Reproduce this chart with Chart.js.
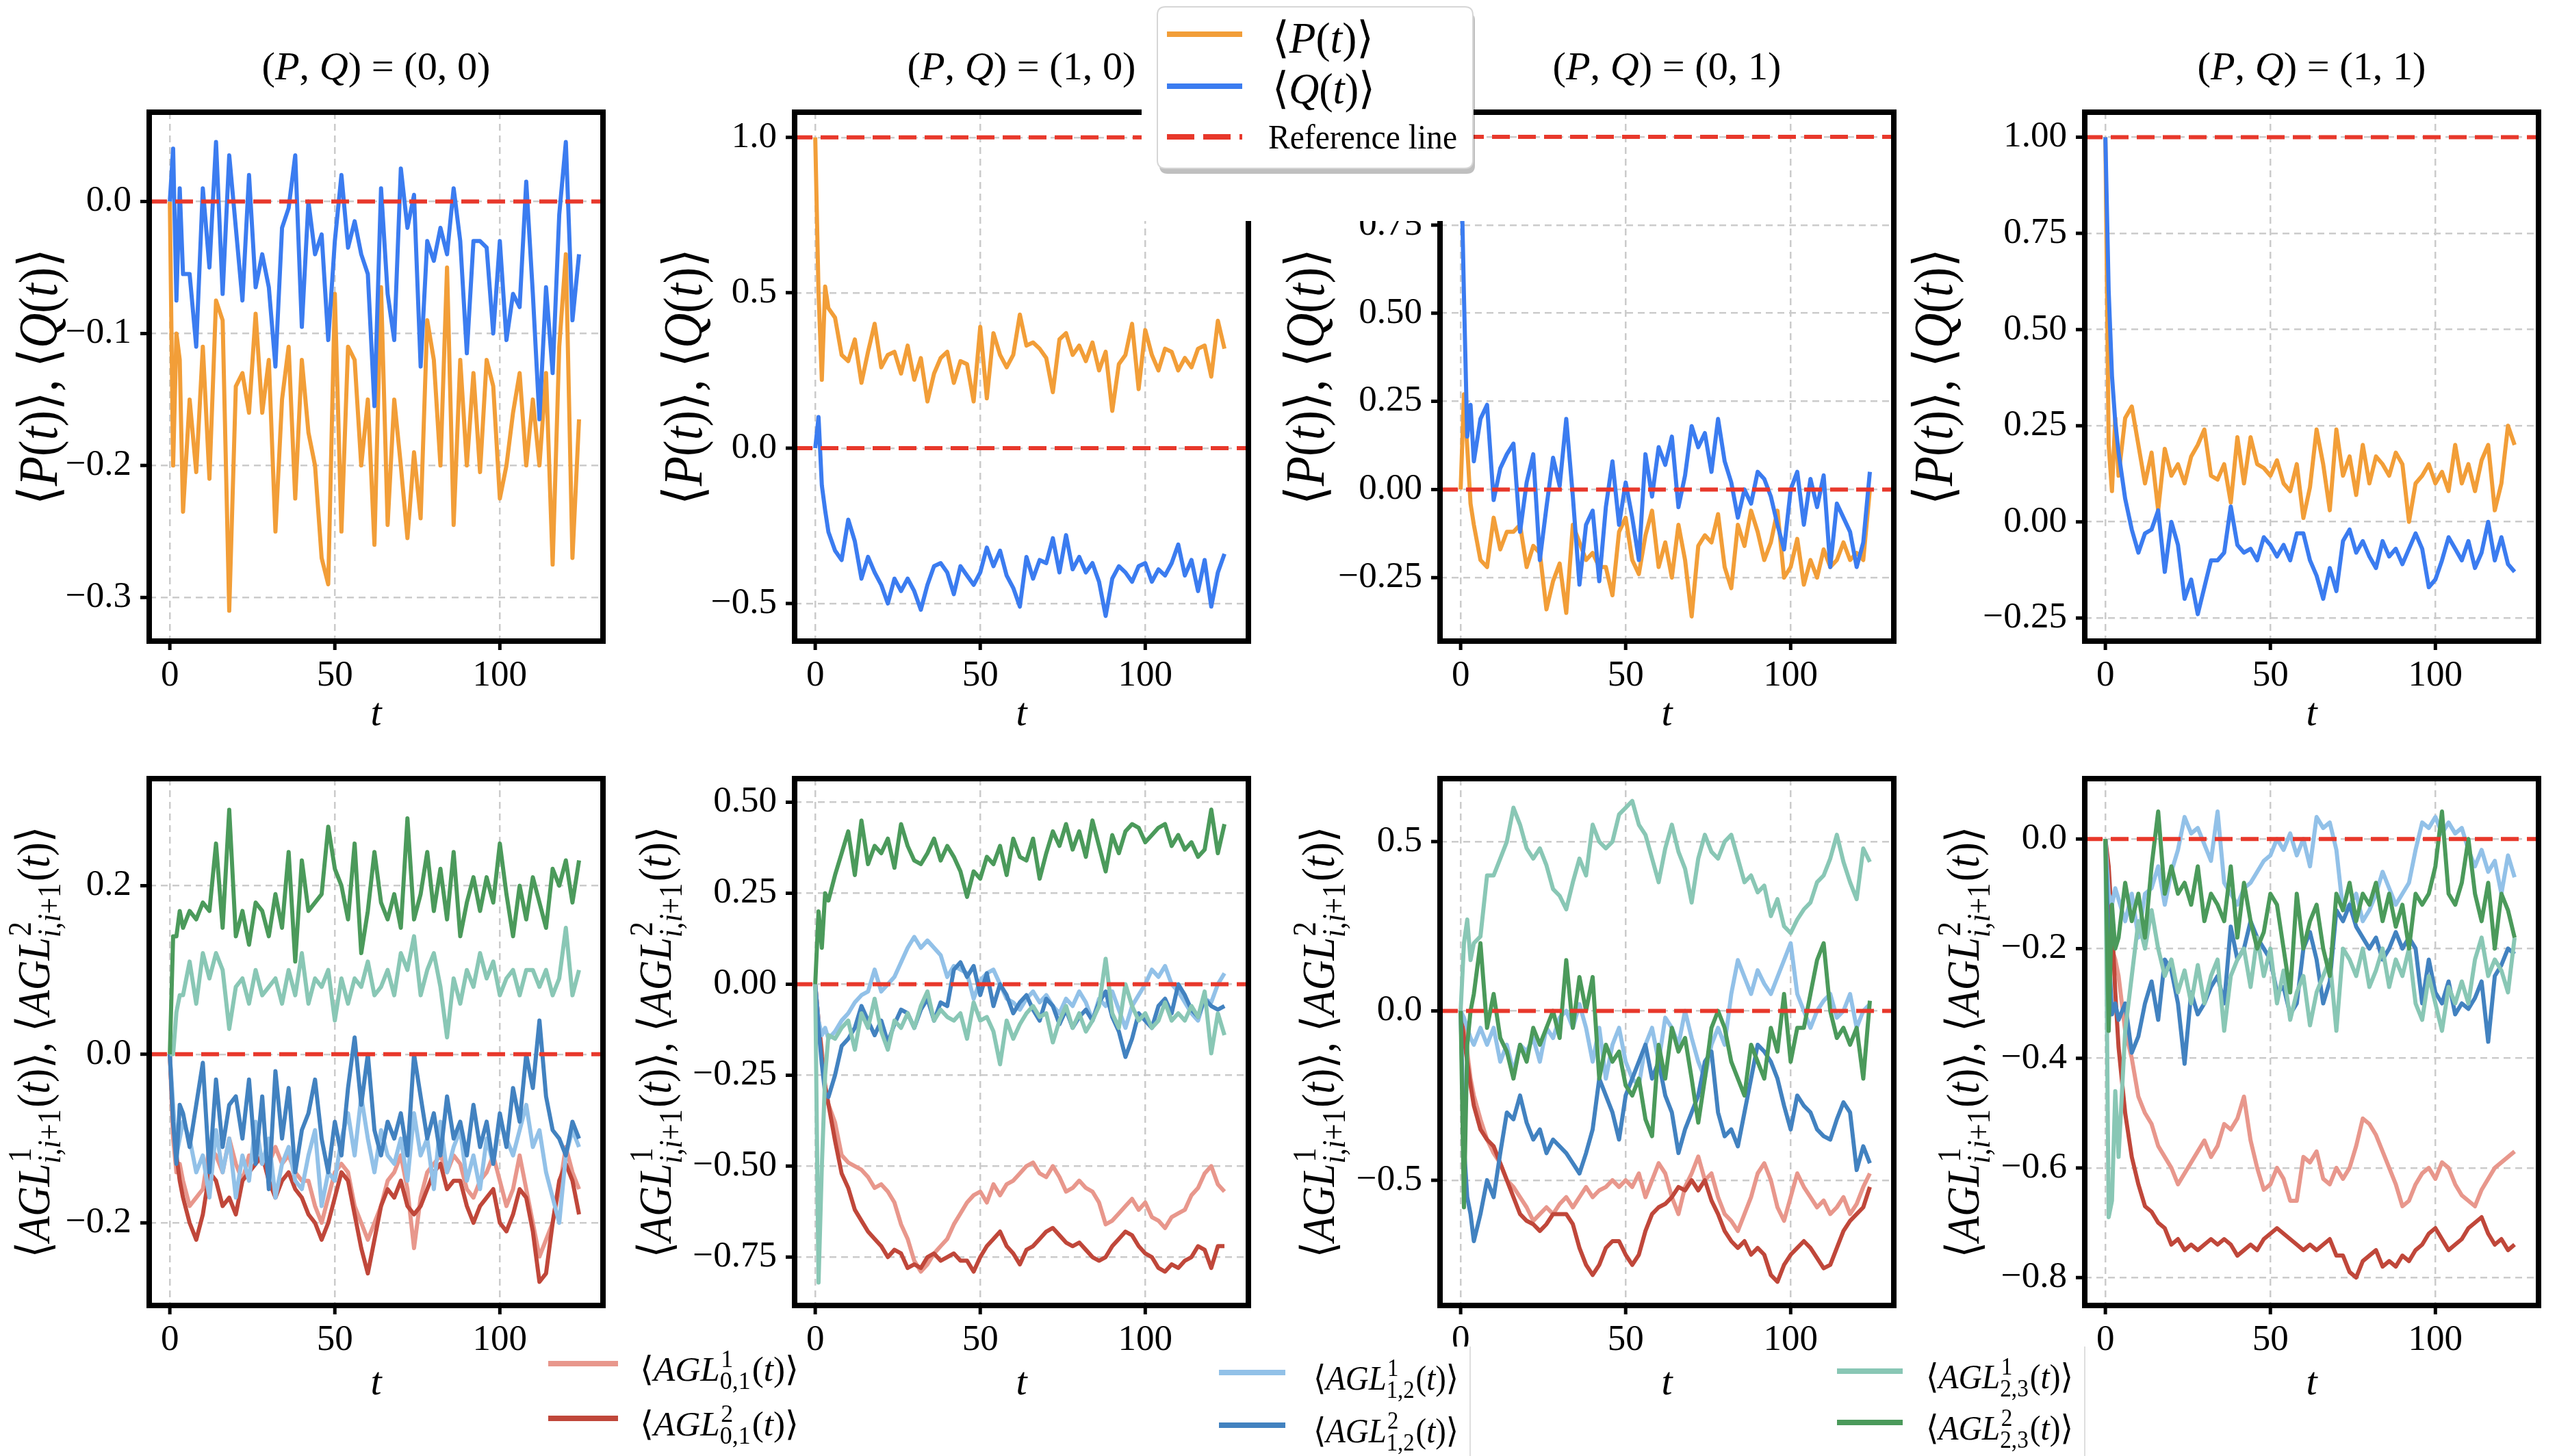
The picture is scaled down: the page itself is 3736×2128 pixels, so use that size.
<!DOCTYPE html>
<html>
<head>
<meta charset="utf-8">
<title>P, Q and AGL averages</title>
<script src="https://cdn.jsdelivr.net/npm/chart.js@4.4.0/dist/chart.umd.min.js"></script>
<style>
  html, body { margin: 0; padding: 0; background: #fff; }
  body { position: relative; width: 3736px; height: 2128px; overflow: hidden; }
  canvas { position: absolute; }
</style>
</head>
<body>
<canvas id="overlay" width="3736" height="2128" style="left:0;top:0;z-index:5;pointer-events:none"></canvas>
<script>
const SERIF = "'Liberation Serif', 'DejaVu Serif', serif";

// time axis (t = 0..124)
const T = [0, 1, 2, 3, 4, 6, 8, 10, 12, 14, 16, 18, 20, 22, 24, 26, 28, 30, 32, 34, 36, 38, 40, 42,
  44, 46, 48, 50, 52, 54, 56, 58, 60, 62, 64, 66, 68, 70, 72, 74, 76, 78, 80, 82, 84, 86, 88, 90,
  92, 94, 96, 98, 100, 102, 104, 106, 108, 110, 112, 114, 116, 118, 120, 122, 124];

// top row: <P(t)> and <Q(t)> for (P,Q) = (0,0), (1,0), (0,1), (1,1)
const P00 = [0, -0.2, -0.1, -0.12,
  -0.235, -0.15, -0.205, -0.11, -0.21, -0.075, -0.09, -0.31, -0.14, -0.13,
  -0.16, -0.085, -0.16, -0.12, -0.25, -0.15, -0.11, -0.225, -0.12, -0.175,
  -0.2, -0.27, -0.29, -0.07, -0.25, -0.11, -0.12, -0.2, -0.15, -0.26,
  -0.065, -0.245, -0.15, -0.2, -0.255, -0.19, -0.24, -0.09, -0.12, -0.2,
  -0.05, -0.245, -0.12, -0.2, -0.13, -0.205, -0.12, -0.14, -0.225, -0.2,
  -0.16, -0.13, -0.2, -0.15, -0.2, -0.13, -0.275, -0.11, -0.04, -0.27,
  -0.165];
const Q00 = [0, 0.04, -0.075, 0.01,
  -0.055, -0.055, -0.11, 0.01, -0.05, 0.045, -0.07, 0.035, -0.02, -0.075,
  0.02, -0.065, -0.04, -0.065, -0.125, -0.02, -0.005, 0.035, -0.095, 0.0,
  -0.04, -0.025, -0.105, -0.03, 0.02, -0.035, -0.015, -0.04, -0.055, -0.155,
  0.01, -0.07, -0.105, 0.025, -0.02, 0.005, -0.125, -0.03, -0.045, -0.02,
  -0.04, 0.01, -0.03, -0.115, -0.03, -0.03, -0.035, -0.1, -0.03, -0.105,
  -0.07, -0.08, 0.015, -0.07, -0.165, -0.065, -0.13, -0.01, 0.045, -0.09,
  -0.04];
const P10 = [1.0, 0.5, 0.22, 0.52,
  0.45, 0.42, 0.3, 0.28, 0.35, 0.21, 0.31, 0.4, 0.26, 0.3,
  0.31, 0.24, 0.33, 0.22, 0.29, 0.15, 0.24, 0.29, 0.31, 0.21,
  0.28, 0.27, 0.15, 0.39, 0.16, 0.37, 0.3, 0.26, 0.3, 0.43,
  0.33, 0.34, 0.32, 0.29, 0.18, 0.35, 0.37, 0.3, 0.33, 0.28,
  0.34, 0.25, 0.31, 0.12, 0.27, 0.3, 0.4, 0.19, 0.38, 0.3,
  0.25, 0.32, 0.31, 0.25, 0.29, 0.26, 0.32, 0.33, 0.23, 0.41,
  0.32];
const Q10 = [0, 0.1, -0.12, -0.2,
  -0.27, -0.33, -0.36, -0.23, -0.3, -0.42, -0.35, -0.4, -0.44, -0.5,
  -0.42, -0.46, -0.42, -0.46, -0.52, -0.44, -0.38, -0.37, -0.4, -0.47,
  -0.38, -0.41, -0.44, -0.4, -0.32, -0.38, -0.33, -0.41, -0.45, -0.51,
  -0.35, -0.42, -0.36, -0.37, -0.29, -0.4, -0.28, -0.39, -0.35, -0.4,
  -0.37, -0.43, -0.54, -0.42, -0.38, -0.4, -0.43, -0.38, -0.37, -0.43,
  -0.39, -0.41, -0.37, -0.31, -0.41, -0.36, -0.46, -0.36, -0.51, -0.4,
  -0.34];
const P01 = [0, 0.27, 0.12, -0.04,
  -0.1, -0.2, -0.22, -0.08, -0.17, -0.12, -0.12, -0.1, -0.22, -0.16,
  -0.18, -0.34, -0.26, -0.21, -0.35, -0.1, -0.15, -0.2, -0.18, -0.22,
  -0.22, -0.3, -0.12, -0.08, -0.2, -0.24, -0.13, -0.06, -0.22, -0.15,
  -0.25, -0.1, -0.2, -0.36, -0.16, -0.13, -0.15, -0.07, -0.22, -0.28,
  -0.1, -0.16, -0.06, -0.12, -0.2, -0.15, -0.06, -0.25, -0.22, -0.14,
  -0.27, -0.2, -0.25, -0.17, -0.22, -0.2, -0.15, -0.2, -0.18, -0.2,
  0.0];
const Q01 = [1.0, 0.55, 0.15, 0.24,
  0.08, 0.2, 0.24, -0.03, 0.06, 0.1, 0.13, -0.12, 0.02, 0.1,
  -0.2, -0.05, 0.09, 0.01, 0.2, -0.02, -0.27, -0.1, -0.06, -0.26,
  -0.05, 0.08, -0.1, 0.02, -0.08, -0.2, 0.1, -0.02, 0.12, 0.07,
  0.15, -0.05, 0.04, 0.18, 0.12, 0.16, 0.05, 0.2, 0.08, 0.02,
  -0.08, 0.0, -0.04, 0.05, 0.03, -0.02, -0.1, -0.17, 0.0, 0.05,
  -0.1, 0.03, -0.05, 0.04, -0.22, -0.04, -0.08, -0.12, -0.22, -0.15,
  0.05];
const P11 = [1.0, 0.2, 0.08, 0.27,
  0.12, 0.27, 0.3, 0.2, 0.1, 0.18, 0.03, 0.19, 0.12, 0.15,
  0.1, 0.17, 0.2, 0.24, 0.12, 0.11, 0.15, 0.05, 0.22, 0.1,
  0.22, 0.15, 0.14, 0.12, 0.16, 0.1, 0.08, 0.15, 0.01, 0.09,
  0.24, 0.15, 0.03, 0.24, 0.12, 0.17, 0.07, 0.2, 0.1, 0.17,
  0.15, 0.12, 0.18, 0.15, 0.0, 0.1, 0.12, 0.15, 0.1, 0.13,
  0.08, 0.2, 0.1, 0.15, 0.08, 0.16, 0.2, 0.03, 0.1, 0.25,
  0.2];
const Q11 = [1.0, 0.6, 0.38, 0.26,
  0.18, 0.06, -0.02, -0.08, -0.03, -0.02, 0.03, -0.13, 0.0, -0.06,
  -0.2, -0.15, -0.24, -0.17, -0.1, -0.1, -0.08, 0.04, -0.06, -0.08,
  -0.07, -0.1, -0.04, -0.06, -0.09, -0.06, -0.1, -0.03, -0.03, -0.1,
  -0.14, -0.2, -0.12, -0.18, -0.05, -0.02, -0.08, -0.05, -0.09, -0.12,
  -0.05, -0.09, -0.07, -0.11, -0.07, -0.03, -0.07, -0.17, -0.15, -0.1,
  -0.04, -0.07, -0.1, -0.05, -0.12, -0.08, 0.0, -0.1, -0.04, -0.11,
  -0.13];

// bottom row: AGL^1/AGL^2 for links (0,1), (1,2), (2,3)
const B1_01a = [0, -0.1, -0.14, -0.13,
  -0.15, -0.18, -0.17, -0.16, -0.11, -0.12, -0.14, -0.1, -0.13, -0.15,
  -0.12, -0.12, -0.13, -0.13, -0.11, -0.13, -0.12, -0.14, -0.15, -0.15,
  -0.18, -0.2, -0.17, -0.14, -0.13, -0.14, -0.18, -0.2, -0.22, -0.2,
  -0.18, -0.15, -0.14, -0.12, -0.16, -0.23, -0.17, -0.14, -0.13, -0.12,
  -0.14, -0.12, -0.13, -0.16, -0.17, -0.15, -0.14, -0.12, -0.15, -0.18,
  -0.16, -0.12, -0.16, -0.2, -0.24, -0.22, -0.2, -0.16, -0.11, -0.14,
  -0.16];
const B1_01b = [0, -0.08, -0.12, -0.15,
  -0.17, -0.2, -0.22, -0.19, -0.14, -0.15, -0.18, -0.17, -0.19, -0.15,
  -0.14, -0.13, -0.12, -0.15, -0.17, -0.15, -0.14, -0.16, -0.17, -0.19,
  -0.2, -0.22, -0.2, -0.17, -0.14, -0.15, -0.19, -0.23, -0.26, -0.22,
  -0.18, -0.16, -0.17, -0.15, -0.18, -0.19, -0.18, -0.16, -0.14, -0.13,
  -0.16, -0.15, -0.15, -0.18, -0.2, -0.18, -0.17, -0.16, -0.2, -0.21,
  -0.19, -0.16, -0.17, -0.21, -0.27, -0.26, -0.2, -0.15, -0.13, -0.15,
  -0.19];
const B1_12a = [0, -0.06, -0.12, -0.1,
  -0.08, -0.1, -0.14, -0.12, -0.17, -0.09, -0.14, -0.1, -0.17, -0.12,
  -0.15, -0.08, -0.13, -0.1, -0.17, -0.13, -0.11, -0.15, -0.16, -0.12,
  -0.09, -0.18, -0.14, -0.15, -0.1, -0.07, -0.12, -0.05, -0.1, -0.14,
  -0.09, -0.12, -0.13, -0.1, -0.15, -0.07, -0.12, -0.1, -0.16, -0.08,
  -0.14, -0.11, -0.09, -0.15, -0.12, -0.16, -0.1, -0.13, -0.08, -0.1,
  -0.12, -0.09, -0.06, -0.11, -0.09, -0.14, -0.17, -0.2, -0.12, -0.09,
  -0.11];
const B1_12b = [0, -0.08, -0.13, -0.06,
  -0.07, -0.11, -0.06, -0.01, -0.14, -0.03, -0.11, -0.06, -0.05, -0.1,
  -0.03, -0.13, -0.05, -0.16, -0.02, -0.1, -0.04, -0.14, -0.09, -0.07,
  -0.03, -0.1, -0.14, -0.08, -0.12, -0.04, 0.02, -0.06, 0.0, -0.09,
  -0.12, -0.08, -0.1, -0.07, -0.12, 0.0, -0.05, -0.1, -0.07, -0.12,
  -0.05, -0.1, -0.08, -0.12, -0.06, -0.11, -0.08, -0.13, -0.07, -0.11,
  -0.04, -0.08, 0.0, -0.04, 0.04, -0.05, -0.09, -0.1, -0.12, -0.08,
  -0.1];
const B1_23a = [0, 0.0, 0.05, 0.07,
  0.07, 0.11, 0.06, 0.12, 0.09, 0.12, 0.1, 0.03, 0.08, 0.09,
  0.06, 0.1, 0.07, 0.08, 0.09, 0.06, 0.1, 0.07, 0.12, 0.06,
  0.09, 0.08, 0.1, 0.04, 0.09, 0.06, 0.09, 0.08, 0.11, 0.07,
  0.08, 0.1, 0.07, 0.12, 0.1, 0.14, 0.07, 0.1, 0.12, 0.08,
  0.02, 0.09, 0.06, 0.1, 0.08, 0.12, 0.09, 0.11, 0.07, 0.09,
  0.1, 0.07, 0.1, 0.1, 0.08, 0.1, 0.07, 0.09, 0.15, 0.07,
  0.1];
const B1_23b = [0, 0.14, 0.14, 0.17,
  0.15, 0.17, 0.16, 0.18, 0.17, 0.25, 0.15, 0.29, 0.14, 0.17,
  0.13, 0.18, 0.17, 0.14, 0.19, 0.15, 0.24, 0.11, 0.23, 0.17,
  0.18, 0.19, 0.27, 0.22, 0.2, 0.16, 0.25, 0.12, 0.17, 0.24,
  0.18, 0.16, 0.19, 0.15, 0.28, 0.16, 0.19, 0.24, 0.17, 0.22,
  0.16, 0.24, 0.14, 0.18, 0.21, 0.17, 0.21, 0.18, 0.25, 0.19,
  0.14, 0.2, 0.16, 0.21, 0.18, 0.15, 0.22, 0.2, 0.23, 0.18,
  0.23];

const B2_01a = [0, -0.1, -0.18, -0.28,
  -0.33, -0.38, -0.47, -0.49, -0.5, -0.51, -0.53, -0.56, -0.55, -0.57,
  -0.6, -0.66, -0.7, -0.76, -0.79, -0.77, -0.74, -0.72, -0.7, -0.66,
  -0.63, -0.6, -0.58, -0.57, -0.6, -0.55, -0.58, -0.55, -0.54, -0.52,
  -0.5, -0.49, -0.52, -0.53, -0.5, -0.53, -0.57, -0.56, -0.54, -0.56,
  -0.57, -0.6, -0.66, -0.65, -0.63, -0.61, -0.59, -0.62, -0.6, -0.64,
  -0.65, -0.67, -0.64, -0.63, -0.62, -0.58, -0.56, -0.52, -0.5, -0.55,
  -0.57];
const B2_01b = [0, -0.1, -0.2, -0.28,
  -0.33, -0.43, -0.52, -0.56, -0.62, -0.65, -0.68, -0.7, -0.72, -0.75,
  -0.73, -0.74, -0.78, -0.77, -0.78, -0.75, -0.74, -0.76, -0.75, -0.74,
  -0.76, -0.76, -0.79, -0.75, -0.72, -0.7, -0.68, -0.72, -0.74, -0.77,
  -0.73, -0.72, -0.7, -0.68, -0.67, -0.69, -0.71, -0.72, -0.71, -0.73,
  -0.75, -0.76, -0.75, -0.72, -0.7, -0.68, -0.69, -0.72, -0.74, -0.75,
  -0.78, -0.79, -0.77, -0.78, -0.76, -0.75, -0.72, -0.73, -0.78, -0.72,
  -0.72];
const B2_12a = [0, -0.1, -0.14, -0.12,
  -0.15, -0.13, -0.1, -0.08, -0.05, -0.03, -0.02, 0.04, -0.02, 0.0,
  0.02, 0.06, 0.1, 0.13, 0.1, 0.12, 0.1, 0.08, 0.02, 0.05,
  0.04, 0.03, -0.04, 0.01, 0.03, 0.04, 0.0, -0.04, -0.05, -0.07,
  -0.04, -0.02, -0.05, -0.03, -0.06, -0.08, -0.04, -0.06, -0.02, -0.05,
  -0.1, -0.04, -0.06, -0.02, -0.07, -0.12, -0.06, -0.03, 0.0, 0.04,
  0.02, 0.05, 0.0, -0.02, -0.05, -0.08, -0.1, -0.04, -0.05, 0.0,
  0.03];
const B2_12b = [0, -0.12, -0.22, -0.3,
  -0.31, -0.25, -0.17, -0.15, -0.12, -0.06, -0.1, -0.14, -0.1, -0.16,
  -0.11, -0.07, -0.08, -0.12, -0.07, -0.04, -0.1, -0.05, -0.06, 0.04,
  0.06, 0.02, 0.05, -0.03, 0.03, -0.06, 0.0, -0.03, -0.08, -0.05,
  -0.03, -0.07, -0.1, -0.04, -0.06, -0.11, -0.07, -0.12, -0.09, -0.07,
  -0.1, -0.05, -0.02, -0.09, -0.13, -0.2, -0.15, -0.08, -0.1, -0.12,
  -0.06, -0.04, -0.08, 0.0, -0.03, -0.07, -0.09, -0.04, -0.06, -0.07,
  -0.06];
const B2_23a = [0, -0.82, -0.5, -0.25,
  -0.14, -0.15, -0.12, -0.1, -0.18, -0.08, -0.12, -0.04, -0.13, -0.18,
  -0.1, -0.12, -0.08, -0.12, -0.06, -0.02, -0.1, -0.07, -0.09, -0.1,
  -0.08, -0.15, -0.05, -0.1, -0.09, -0.13, -0.22, -0.1, -0.15, -0.11,
  -0.08, -0.06, -0.09, -0.08, -0.16, -0.1, -0.06, -0.12, -0.08, -0.13,
  -0.1, -0.06, 0.07, -0.08, -0.12, 0.0, -0.06, -0.1, -0.08, -0.12,
  -0.1, -0.05, -0.1, -0.08, -0.1, -0.06, -0.09, -0.02, -0.19, -0.08,
  -0.14];
const B2_23b = [0, 0.2, 0.1, 0.25,
  0.23, 0.3, 0.36, 0.42, 0.3, 0.45, 0.33, 0.38, 0.36, 0.4,
  0.32, 0.44, 0.38, 0.34, 0.33, 0.36, 0.4, 0.34, 0.38, 0.35,
  0.31, 0.24, 0.31, 0.29, 0.35, 0.33, 0.38, 0.3, 0.4, 0.35,
  0.34, 0.4, 0.29, 0.36, 0.42, 0.38, 0.44, 0.37, 0.42, 0.35,
  0.45, 0.38, 0.31, 0.41, 0.36, 0.42, 0.44, 0.43, 0.39, 0.41,
  0.43, 0.44, 0.38, 0.41, 0.37, 0.39, 0.35, 0.37, 0.48, 0.36,
  0.44];

const B3_01a = [0, -0.05, -0.12, -0.2,
  -0.25, -0.32, -0.38, -0.42, -0.45, -0.5, -0.52, -0.55, -0.58, -0.62,
  -0.6, -0.58, -0.6, -0.57, -0.55, -0.58, -0.55, -0.52, -0.55, -0.53,
  -0.52, -0.5, -0.52, -0.5, -0.52, -0.48, -0.55, -0.5, -0.45, -0.48,
  -0.55, -0.6, -0.52, -0.48, -0.43, -0.5, -0.48, -0.55, -0.6, -0.62,
  -0.65, -0.6, -0.55, -0.48, -0.45, -0.5, -0.58, -0.62, -0.55, -0.48,
  -0.52, -0.55, -0.58, -0.56, -0.6, -0.58, -0.55, -0.6, -0.57, -0.52,
  -0.48];
const B3_01b = [0, -0.08, -0.15, -0.22,
  -0.28, -0.35, -0.38, -0.4, -0.45, -0.5, -0.55, -0.6, -0.62, -0.63,
  -0.65, -0.63, -0.6, -0.6, -0.6, -0.63, -0.7, -0.75, -0.78, -0.75,
  -0.7, -0.68, -0.68, -0.72, -0.75, -0.72, -0.65, -0.6, -0.58, -0.57,
  -0.55, -0.52, -0.53, -0.5, -0.53, -0.5, -0.56, -0.6, -0.65, -0.68,
  -0.7, -0.68, -0.72, -0.7, -0.72, -0.78, -0.8, -0.75, -0.72, -0.7,
  -0.68, -0.7, -0.73, -0.76, -0.75, -0.7, -0.65, -0.62, -0.6, -0.58,
  -0.52];
const B3_12a = [0, -0.02, -0.05, -0.08,
  -0.1, -0.05, -0.1, -0.05, -0.15, -0.1, -0.18, -0.1, -0.12, -0.08,
  -0.15, -0.05, -0.08, -0.02, 0.0, -0.05, 0.02, -0.05, -0.15, -0.05,
  -0.2, -0.1, -0.05, -0.15, -0.2, -0.22, -0.1, -0.05, -0.15, -0.02,
  -0.05, -0.1, 0.0, -0.08, -0.15, -0.2, -0.1, -0.05, -0.1, 0.05,
  0.15, 0.1, 0.05, 0.12, 0.08, 0.05, 0.1, 0.15, 0.2, 0.05,
  0.0, -0.05, 0.0, 0.03, 0.05, -0.02, 0.0, 0.05, -0.05, 0.0,
  0.02];
const B3_12b = [0, -0.4, -0.55, -0.6,
  -0.68, -0.6, -0.5, -0.55, -0.42, -0.3, -0.32, -0.25, -0.33, -0.38,
  -0.35, -0.42, -0.38, -0.4, -0.42, -0.45, -0.48, -0.42, -0.35, -0.2,
  -0.25, -0.3, -0.38, -0.25, -0.2, -0.15, -0.1, -0.2, -0.15, -0.25,
  -0.3, -0.42, -0.35, -0.3, -0.25, -0.15, -0.12, -0.3, -0.37, -0.35,
  -0.4, -0.3, -0.2, -0.1, -0.12, -0.15, -0.2, -0.28, -0.35, -0.25,
  -0.28, -0.3, -0.35, -0.37, -0.38, -0.32, -0.27, -0.3, -0.47, -0.4,
  -0.45];
const B3_23a = [0, 0.2, 0.27, 0.15,
  0.2, 0.22, 0.4, 0.4, 0.45, 0.5, 0.6, 0.55, 0.48, 0.45,
  0.48, 0.43, 0.36, 0.34, 0.3, 0.38, 0.45, 0.4, 0.55, 0.5,
  0.48, 0.5, 0.58, 0.6, 0.62, 0.55, 0.52, 0.45, 0.38, 0.48,
  0.55, 0.47, 0.42, 0.32, 0.45, 0.52, 0.47, 0.45, 0.5, 0.52,
  0.45, 0.38, 0.4, 0.35, 0.37, 0.28, 0.33, 0.25, 0.23, 0.27,
  0.3, 0.32, 0.38, 0.4, 0.45, 0.52, 0.44, 0.38, 0.33, 0.48,
  0.44];
const B3_23b = [0, -0.58, -0.1, 0.0,
  0.05, 0.2, -0.05, 0.05, -0.08, -0.12, -0.2, -0.1, -0.15, -0.05,
  -0.1, -0.05, 0.0, -0.08, 0.15, -0.05, 0.1, 0.0, 0.1, -0.2,
  -0.1, -0.15, -0.12, -0.22, -0.25, -0.2, -0.32, -0.37, -0.1, -0.2,
  -0.05, -0.12, -0.08, -0.2, -0.33, -0.2, -0.05, 0.0, -0.05, -0.15,
  -0.2, -0.25, -0.1, -0.15, -0.2, -0.05, -0.12, 0.05, -0.15, -0.05,
  -0.05, 0.05, 0.15, 0.2, 0.0, -0.08, -0.05, -0.1, -0.05, -0.2,
  0.03];

const B4_01a = [0, -0.1, -0.2, -0.22,
  -0.25, -0.35, -0.4, -0.47, -0.5, -0.52, -0.56, -0.58, -0.6, -0.63,
  -0.61, -0.59, -0.57, -0.55, -0.58, -0.56, -0.52, -0.53, -0.51, -0.47,
  -0.55, -0.6, -0.64, -0.63, -0.6, -0.62, -0.66, -0.66, -0.58, -0.59,
  -0.57, -0.62, -0.63, -0.6, -0.62, -0.6, -0.56, -0.51, -0.52, -0.54,
  -0.57, -0.6, -0.63, -0.67, -0.66, -0.63, -0.61, -0.6, -0.62, -0.59,
  -0.6, -0.63, -0.65, -0.66, -0.67, -0.64, -0.62, -0.6, -0.59, -0.58,
  -0.57];
const B4_01b = [0, -0.05, -0.15, -0.28,
  -0.38, -0.5, -0.58, -0.63, -0.67, -0.68, -0.7, -0.71, -0.74, -0.73,
  -0.75, -0.74, -0.75, -0.74, -0.73, -0.74, -0.73, -0.74, -0.76, -0.75,
  -0.74, -0.75, -0.73, -0.72, -0.71, -0.72, -0.73, -0.74, -0.75, -0.74,
  -0.75, -0.74, -0.73, -0.76, -0.76, -0.79, -0.8, -0.77, -0.76, -0.75,
  -0.78, -0.77, -0.78, -0.76, -0.77, -0.75, -0.74, -0.72, -0.71, -0.73,
  -0.75, -0.74, -0.73, -0.71, -0.7, -0.69, -0.72, -0.74, -0.73, -0.75,
  -0.74];
const B4_12a = [0, -0.1, -0.12, -0.09,
  -0.11, -0.15, -0.1, -0.18, -0.1, -0.09, -0.05, -0.12, -0.06, -0.02,
  0.04, 0.01, 0.02, -0.01, -0.04, 0.05, -0.08, -0.1, -0.12, -0.09,
  -0.08, -0.06, -0.04, -0.03, 0.0, -0.02, 0.01, -0.03, 0.0, -0.05,
  0.04, 0.02, 0.03, -0.02, -0.13, -0.12, -0.1, -0.15, -0.13, -0.1,
  -0.06, -0.09, -0.12, -0.1, -0.08, -0.02, 0.03, 0.02, 0.04, 0.01,
  0.03, 0.01, 0.02, -0.02, -0.05, -0.02, -0.06, -0.04, -0.1, -0.03,
  -0.07];
const B4_12b = [0, -0.2, -0.32, -0.3,
  -0.33, -0.3, -0.39, -0.36, -0.3, -0.26, -0.33, -0.22, -0.24, -0.3,
  -0.41, -0.28, -0.32, -0.3, -0.27, -0.25, -0.3, -0.16, -0.22, -0.2,
  -0.15, -0.18, -0.2, -0.22, -0.28, -0.27, -0.32, -0.3, -0.2, -0.17,
  -0.22, -0.3, -0.26, -0.13, -0.15, -0.12, -0.16, -0.18, -0.2, -0.18,
  -0.22, -0.2, -0.17, -0.2, -0.18, -0.2, -0.3, -0.22, -0.28, -0.3,
  -0.26, -0.32, -0.3, -0.31, -0.29, -0.26, -0.37, -0.25, -0.23, -0.2,
  -0.21];
const B4_23a = [0, -0.69, -0.66, -0.46,
  -0.58, -0.35, -0.25, -0.15, -0.2, -0.13, -0.2, -0.25, -0.22, -0.28,
  -0.24, -0.3, -0.23, -0.3, -0.25, -0.22, -0.35, -0.25, -0.22, -0.2,
  -0.27, -0.18, -0.25, -0.2, -0.3, -0.24, -0.33, -0.28, -0.25, -0.34,
  -0.28, -0.25, -0.22, -0.35, -0.2, -0.22, -0.25, -0.2, -0.27, -0.24,
  -0.2, -0.27, -0.22, -0.25, -0.2, -0.3, -0.33, -0.25, -0.3, -0.35,
  -0.27, -0.3, -0.26, -0.3, -0.22, -0.18, -0.25, -0.22, -0.24, -0.28,
  -0.18];
const B4_23b = [0, -0.35, -0.12, -0.2,
  -0.18, -0.08, -0.15, -0.1, -0.18, -0.05, 0.05, -0.1, -0.05, -0.1,
  -0.08, -0.12, -0.05, -0.15, -0.1, -0.12, -0.15, -0.05, -0.18, -0.08,
  -0.15, -0.2, -0.17, -0.1, -0.12, -0.2, -0.28, -0.1, -0.2, -0.15,
  -0.12, -0.2, -0.25, -0.1, -0.13, -0.08, -0.15, -0.1, -0.12, -0.08,
  -0.15, -0.1, -0.16, -0.12, -0.2, -0.1, -0.12, -0.1, -0.05, 0.05,
  -0.1, -0.12, -0.08, 0.0, -0.1, -0.15, -0.08, -0.2, -0.1, -0.13,
  -0.18];

const TOP_PQ = [[0, 0], [1, 0], [0, 1], [1, 1]];
const TOP_P = [P00, P10, P01, P11];
const TOP_Q = [Q00, Q10, Q01, Q11];
const TOP_REFS = [[0], [1, 0], [0, 1], [1]];
const BOTTOM_SERIES = [
  [B1_01a, B1_01b, B1_12a, B1_12b, B1_23a, B1_23b],
  [B2_01a, B2_01b, B2_12a, B2_12b, B2_23a, B2_23b],
  [B3_01a, B3_01b, B3_12a, B3_12b, B3_23a, B3_23b],
  [B4_01a, B4_01b, B4_12a, B4_12b, B4_23a, B4_23b]
];
const BOTTOM_REFS = [[0], [0], [0], [0]];

const X_MIN = -6.25, X_MAX = 131.25;
const X_TICKS = [0, 50, 100];
const X_TICK_LABELS = ['0', '50', '100'];

const TOP_Y_RANGE = [[-0.333, 0.0676], [-0.621, 1.081], [-0.43, 1.07], [-0.31, 1.065]];
const TOP_Y_TICKS = [[-0.3, -0.2, -0.1, 0], [-0.5, 0, 0.5, 1], [-0.25, 0, 0.25, 0.5, 0.75, 1], [-0.25, 0, 0.25, 0.5, 0.75, 1]];
const TOP_Y_LABELS = [['−0.3', '−0.2', '−0.1', '0.0'], ['−0.5', '0.0', '0.5', '1.0'],
  ['−0.25', '0.00', '0.25', '0.50', '0.75', '1.00'], ['−0.25', '0.00', '0.25', '0.50', '0.75', '1.00']];
const BOT_Y_RANGE = [[-0.298, 0.327], [-0.883, 0.565], [-0.87, 0.686], [-0.851, 0.11]];
const BOT_Y_TICKS = [[-0.2, 0, 0.2], [-0.75, -0.5, -0.25, 0, 0.25, 0.5], [-0.5, 0, 0.5], [-0.8, -0.6, -0.4, -0.2, 0]];
const BOT_Y_LABELS = [['−0.2', '0.0', '0.2'], ['−0.75', '−0.50', '−0.25', '0.00', '0.25', '0.50'],
  ['−0.5', '0.0', '0.5'], ['−0.8', '−0.6', '−0.4', '−0.2', '0.0']];

const ORANGE = '#f29e38', BLUE = '#3b7cf0', RED = '#e8382b';
const AGL_COLORS = ['#e8978c', '#c0473a', '#92c1e8', '#4282c0', '#89c7b5', '#4b9a5b'];

// layout (page pixels)
const FRAME_L = [218, 1161, 2104, 3046], FRAME_W = 663;
const ROW_TOP = [164, 1138], ROW_H = [773, 770];
const PAD_L = 280, PAD_R = 30, PAD_T = 130, PAD_B = 150;
const TOP_YLAB_X = [58, 1000, 1909, 2827], BOT_YLAB_X = [50, 958, 1927, 2869];

// --- math-ish text drawn on canvas ---
const SUB_I = [{ i: 'i' }, ',', { i: 'i' }, '+1'];
const LBL_P = ['⟨', { i: 'P' }, '(', { i: 't' }, ')⟩'];
const LBL_Q = ['⟨', { i: 'Q' }, '(', { i: 't' }, ')⟩'];
function aglLabel(k, sub) { return ['⟨', { i: 'AGL' }, { sup: [k], sub: sub }, '(', { i: 't' }, ')⟩']; }
const TOP_YLABEL = [...LBL_P, ', ', ...LBL_Q];
const BOT_YLABEL = [...aglLabel('1', SUB_I), ', ', ...aglLabel('2', SUB_I)];
const AGL_NAMES = [aglLabel('1', ['0,1']), aglLabel('2', ['0,1']), aglLabel('1', ['1,2']),
  aglLabel('2', ['1,2']), aglLabel('1', ['2,3']), aglLabel('2', ['2,3'])];

function fnt(size, it) { return (it ? 'italic ' : '') + size.toFixed(1) + 'px ' + SERIF; }
function partW(ctx, p, size) {
  if (typeof p === 'string') { ctx.font = fnt(size, false); return ctx.measureText(p).width; }
  if (p.i) { ctx.font = fnt(size, true); return ctx.measureText(p.i).width; }
  const s = size * 0.7;
  return Math.max(listW(ctx, p.sup || [], s), listW(ctx, p.sub || [], s)) + size * 0.04;
}
function listW(ctx, parts, size) { return parts.reduce((w, p) => w + partW(ctx, p, size), 0); }
function drawList(ctx, parts, x, y, size) {
  for (const p of parts) {
    if (typeof p === 'string') { ctx.font = fnt(size, false); ctx.fillText(p, x, y); }
    else if (p.i) { ctx.font = fnt(size, true); ctx.fillText(p.i, x, y); }
    else {
      const s = size * 0.7;
      if (p.sup) drawList(ctx, p.sup, x + size * 0.03, y - size * 0.4, s);
      if (p.sub) drawList(ctx, p.sub, x, y + size * 0.24, s);
    }
    x += partW(ctx, p, size);
  }
}
function rich(ctx, parts, x, y, size, opt) {
  opt = opt || {};
  let w = listW(ctx, parts, size);
  let sx = 1;
  if (opt.len && opt.fit === 'size') { size = size * opt.len / w; w = listW(ctx, parts, size); }
  else if (opt.len) sx = opt.len / w;
  ctx.save();
  ctx.translate(x, y);
  if (opt.rot) ctx.rotate(opt.rot);
  ctx.scale(sx, opt.sy || 1);
  ctx.fillStyle = '#000';
  ctx.textAlign = 'left';
  ctx.textBaseline = 'alphabetic';
  drawList(ctx, parts, opt.align === 'left' ? 0 : -w / 2, size * 0.32, size);
  ctx.restore();
}

// frame, tick marks, titles and axis labels
function decoPlugin(meta) {
  return {
    id: 'deco',
    afterDatasetsDraw(chart) {
      const { ctx, chartArea: a, scales } = chart;
      ctx.save();
      ctx.strokeStyle = '#000';
      ctx.lineWidth = 5;
      ctx.beginPath();
      scales.x.ticks.forEach(t => {
        const px = scales.x.getPixelForValue(t.value);
        ctx.moveTo(px, a.bottom); ctx.lineTo(px, a.bottom + 13);
      });
      scales.y.ticks.forEach(t => {
        const py = scales.y.getPixelForValue(t.value);
        ctx.moveTo(a.left - 13, py); ctx.lineTo(a.left, py);
      });
      ctx.stroke();
      ctx.lineWidth = 8;
      ctx.strokeRect(a.left, a.top, a.right - a.left, a.bottom - a.top);
      ctx.restore();
      const cx = (a.left + a.right) / 2;
      if (meta.title) rich(ctx, meta.title, cx, a.top - 67, 58, { len: 334 });
      rich(ctx, [{ i: 't' }], cx, a.bottom + meta.tY, 58);
      // y label: fit its length, then thicken glyphs a little (the reference is slightly stretched)
      rich(ctx, meta.ylabel, meta.ylabX - meta.left, (a.top + a.bottom) / 2, 60,
        { rot: -Math.PI / 2, len: meta.yLen, fit: 'size', sy: 1.12 });
    }
  };
}

function seriesData(vals) { return T.map((t, i) => ({ x: t, y: vals[i] })); }
function refData(v) { return [{ x: X_MIN, y: v }, { x: X_MAX, y: v }]; }

function makePanel(row, col, lines, refs, yRange, yTicks, yLabels, meta) {
  const left = FRAME_L[col] - PAD_L, top = ROW_TOP[row] - PAD_T;
  const W = PAD_L + FRAME_W + PAD_R, H = PAD_T + ROW_H[row] + PAD_B;
  const canvas = document.createElement('canvas');
  canvas.width = W; canvas.height = H;
  canvas.style.cssText = `left:${left}px;top:${top}px;width:${W}px;height:${H}px;z-index:1`;
  document.body.appendChild(canvas);
  meta.left = left;

  const datasets = refs.map(v => ({
    data: refData(v), borderColor: RED, borderWidth: 6, borderDash: [26, 12],
    pointRadius: 0, order: 0
  }));
  lines.forEach((ln, k) => datasets.push({
    data: seriesData(ln.vals), borderColor: ln.color, borderWidth: 6, pointRadius: 0,
    tension: 0, borderJoinStyle: 'round', order: 20 - k
  }));

  const gridOpts = { color: '#cbcbcb', lineWidth: 2.5, drawTicks: false };
  const tickFont = { family: SERIF, size: 53 };
  new Chart(canvas, {
    type: 'line',
    data: { datasets },
    options: {
      responsive: false, animation: false, devicePixelRatio: 1, events: [],
      layout: { autoPadding: false, padding: { top: PAD_T, right: PAD_R, left: 0, bottom: 0 } },
      plugins: { legend: { display: false }, tooltip: { enabled: false }, title: { display: false } },
      scales: {
        x: {
          type: 'linear', min: X_MIN, max: X_MAX,
          afterBuildTicks: s => { s.ticks = X_TICKS.map(v => ({ value: v })); },
          afterFit: s => { s.height = PAD_B; },
          ticks: { font: tickFont, color: '#000', padding: 19, maxRotation: 0, autoSkip: false,
            callback: (v, i) => X_TICK_LABELS[i] },
          grid: gridOpts, border: { display: false, dash: [10, 7] }
        },
        y: {
          type: 'linear', min: yRange[0], max: yRange[1],
          afterBuildTicks: s => { s.ticks = yTicks.map(v => ({ value: v })); },
          afterFit: s => { s.width = PAD_L; },
          ticks: { font: tickFont, color: '#000', padding: 26, autoSkip: false,
            callback: (v, i) => yLabels[i] },
          grid: gridOpts, border: { display: false, dash: [10, 7] }
        }
      }
    },
    plugins: [decoPlugin(meta)]
  });
}

for (let c = 0; c < 4; c++) {
  const [p, q] = TOP_PQ[c];
  makePanel(0, c,
    [{ vals: TOP_P[c], color: ORANGE }, { vals: TOP_Q[c], color: BLUE }],
    TOP_REFS[c], TOP_Y_RANGE[c], TOP_Y_TICKS[c], TOP_Y_LABELS[c],
    { title: ['(', { i: 'P' }, ', ', { i: 'Q' }, ') = (' + p + ', ' + q + ')'],
      ylabel: TOP_YLABEL, ylabX: TOP_YLAB_X[c], yLen: 375, tY: 104 });
  makePanel(1, c,
    BOTTOM_SERIES[c].map((vals, k) => ({ vals, color: AGL_COLORS[k] })),
    BOTTOM_REFS[c], BOT_Y_RANGE[c], BOT_Y_TICKS[c], BOT_Y_LABELS[c],
    { title: null, ylabel: BOT_YLABEL, ylabX: BOT_YLAB_X[c], yLen: 631, tY: 111 });
}

// --- legends (overlay) ---
const ov = document.getElementById('overlay').getContext('2d');
function roundRect(ctx, x, y, w, h, r) {
  ctx.beginPath();
  ctx.moveTo(x + r, y); ctx.lineTo(x + w - r, y); ctx.quadraticCurveTo(x + w, y, x + w, y + r);
  ctx.lineTo(x + w, y + h - r); ctx.quadraticCurveTo(x + w, y + h, x + w - r, y + h);
  ctx.lineTo(x + r, y + h); ctx.quadraticCurveTo(x, y + h, x, y + h - r);
  ctx.lineTo(x, y + r); ctx.quadraticCurveTo(x, y, x + r, y);
  ctx.closePath();
}
function sampleLine(ctx, x1, x2, y, color, dash) {
  ctx.save();
  ctx.strokeStyle = color; ctx.lineWidth = 8; ctx.setLineDash(dash || []);
  ctx.beginPath(); ctx.moveTo(x1, y); ctx.lineTo(x2, y); ctx.stroke();
  ctx.restore();
}

// blank strip under the upper legend
ov.fillStyle = '#fff';
ov.fillRect(1668, 150, 484, 173);
roundRect(ov, 1694, 18, 461, 236, 12);
ov.fillStyle = 'rgba(0,0,0,0.25)'; ov.fill();
roundRect(ov, 1691, 10, 461, 236, 12);
ov.fillStyle = '#fff'; ov.fill();
ov.strokeStyle = '#d6d6d6'; ov.lineWidth = 2; ov.stroke();
sampleLine(ov, 1705, 1815, 50, ORANGE);
rich(ov, LBL_P, 1859, 57, 64, { align: 'left', len: 148 });
sampleLine(ov, 1705, 1815, 126, BLUE);
rich(ov, LBL_Q, 1859, 131, 64, { align: 'left', len: 150 });
sampleLine(ov, 1705, 1815, 200, RED, [40, 13]);
rich(ov, ['Reference line'], 1853, 201, 50, { align: 'left', len: 276 });

const BL_BOX = [[785, 1175], [1765, 2148], [2660, 3046]];
const BL_LINE_X = [[801, 903], [1781, 1878], [2684, 2780]];
const BL_TEXT_X = [935, 1919, 2814];
const BL_ROWS = [[1993, 2073], [2006, 2083], [2004, 2079]];
const BL_TEXT_W = [232, 212, 215];
for (let g = 0; g < 3; g++) {
  ov.fillStyle = '#fff';
  ov.fillRect(BL_BOX[g][0], 1968, BL_BOX[g][1] - BL_BOX[g][0], 160);
  if (g > 0) {
    ov.strokeStyle = '#dedede'; ov.lineWidth = 2;
    ov.beginPath(); ov.moveTo(BL_BOX[g][1], 1968); ov.lineTo(BL_BOX[g][1], 2128); ov.stroke();
  }
  for (let r = 0; r < 2; r++) {
    const k = 2 * g + r;
    sampleLine(ov, BL_LINE_X[g][0], BL_LINE_X[g][1], BL_ROWS[g][r], AGL_COLORS[k]);
    rich(ov, AGL_NAMES[k], BL_TEXT_X[g], BL_ROWS[g][r] + 9, 50, { align: 'left', len: BL_TEXT_W[g] });
  }
}
</script>
</body>
</html>
